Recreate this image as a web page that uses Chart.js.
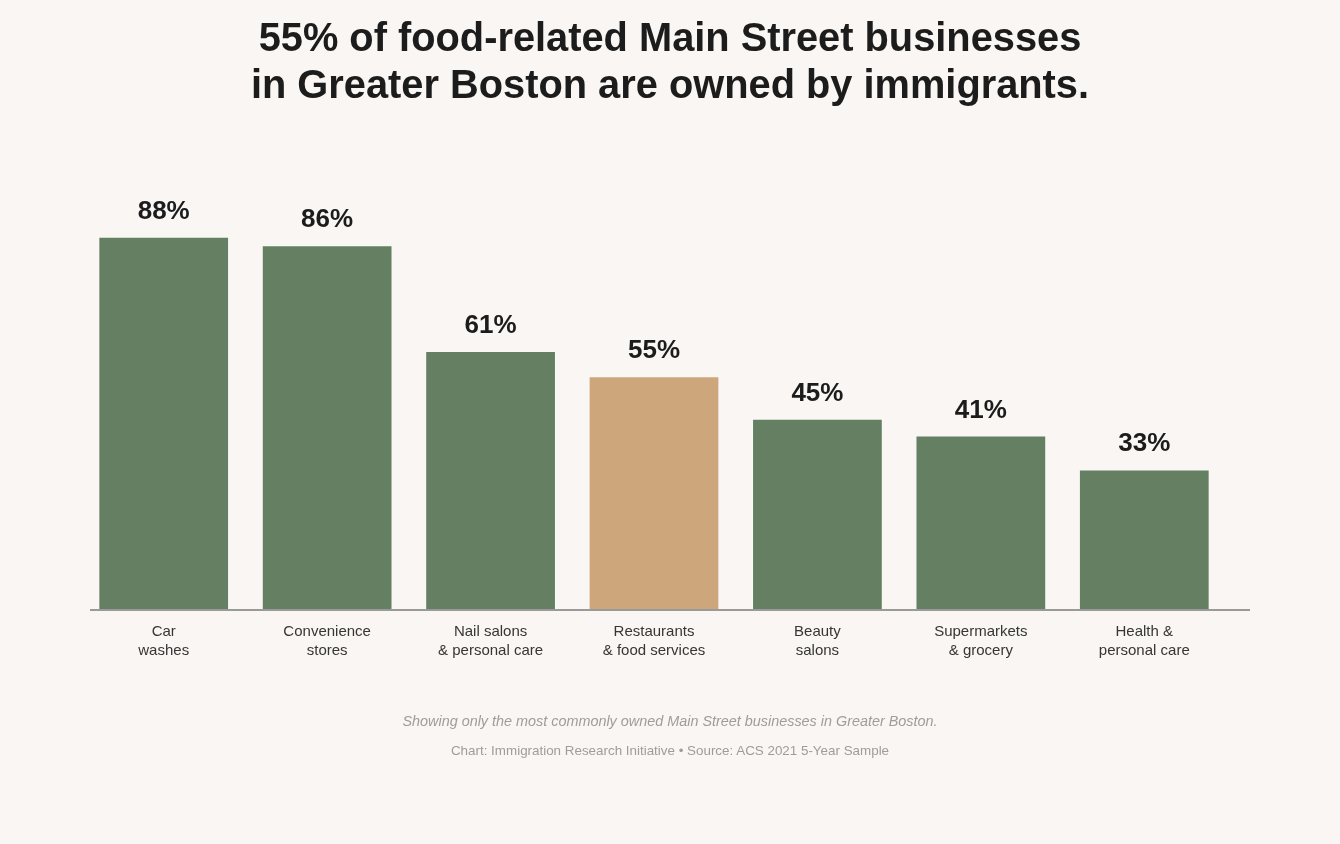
<!DOCTYPE html>
<html>
<head>
<meta charset="utf-8">
<script src="https://cdn.jsdelivr.net/npm/chart.js@4/dist/chart.umd.min.js"></script>
<style>
  html, body { margin: 0; padding: 0; background: #f9f6f3; }
  #wrap { position: relative; width: 1340px; height: 844px; overflow: hidden; font-family: "Liberation Sans", Arial, sans-serif; }
  #title { position: absolute; left: 0; top: 14px; width: 1340px; text-align: center; font-weight: bold; font-size: 39.8px; line-height: 47px; color: #1c1c1c; }
  #note { position: absolute; left: 0; top: 711px; width: 1340px; text-align: center; font-style: italic; font-size: 14.4px; line-height: 20px; color: #a09c99; }
  #source { position: absolute; left: 0; top: 741px; width: 1340px; text-align: center; font-size: 13.4px; line-height: 20px; color: #a09c99; }
  #chart { position: absolute; left: 0; top: 0; }
</style>
</head>
<body>
<div id="wrap">
  <canvas id="chart" width="1340" height="844"></canvas>
  <div id="title">55% of food-related Main Street businesses<br>in Greater Boston are owned by immigrants.</div>
  <div id="note">Showing only the most commonly owned Main Street businesses in Greater Boston.</div>
  <div id="source">Chart: Immigration Research Initiative • Source: ACS 2021 5-Year Sample</div>
</div>
<script>
'use strict';
// Data
var categories = [
  ['Car', 'washes'],
  ['Convenience', 'stores'],
  ['Nail salons', '& personal care'],
  ['Restaurants', '& food services'],
  ['Beauty', 'salons'],
  ['Supermarkets', '& grocery'],
  ['Health &', 'personal care']
];
var shareImmigrant = [88, 86, 61, 55, 45, 41, 33];
var highlightIndex = 3;

var greenColor = '#647f61';
var tanColor = '#cda67b';
var barColors = [];
for (var i = 0; i < shareImmigrant.length; i++) {
  barColors.push(i === highlightIndex ? tanColor : greenColor);
}

// value labels over bars + the baseline
var barExtras = {
  id: 'barExtras',
  afterDatasetsDraw: function (chart) {
    var ctx = chart.ctx;
    var area = chart.chartArea;
    ctx.save();
    ctx.strokeStyle = '#9a9a9a';
    ctx.lineWidth = 2;
    ctx.beginPath();
    ctx.moveTo(90, area.bottom + 1);
    ctx.lineTo(1250, area.bottom + 1);
    ctx.stroke();

    var meta = chart.getDatasetMeta(0);
    ctx.fillStyle = '#1c1c1c';
    ctx.font = 'bold 26px "Liberation Sans", Arial, sans-serif';
    ctx.textAlign = 'center';
    ctx.textBaseline = 'alphabetic';
    meta.data.forEach(function (bar, idx) {
      ctx.fillText(shareImmigrant[idx] + '%', bar.x, bar.y - 18);
    });
    ctx.restore();
  }
};

var ctx = document.getElementById('chart').getContext('2d');
var chart = new Chart(ctx, {
  type: 'bar',
  data: {
    labels: categories,
    datasets: [{
      data: shareImmigrant,
      backgroundColor: barColors,
      borderColor: 'rgba(255,255,255,0.25)',
      borderWidth: 1,
      barPercentage: 0.8,
      categoryPercentage: 1
    }]
  },
  options: {
    responsive: false,
    animation: false,
    layout: {
      padding: { left: 82, right: 114, top: 186, bottom: 175 }
    },
    plugins: {
      legend: { display: false },
      tooltip: { enabled: false },
      title: { display: false }
    },
    scales: {
      x: {
        grid: { display: false, drawTicks: false },
        border: { display: false },
        afterFit: function (s) { s.height = 60; },
        ticks: {
          padding: 13,
          color: '#363636',
          maxRotation: 0,
          autoSkip: false,
          font: { family: '"Liberation Sans", Arial, sans-serif', size: 15, lineHeight: 1.27 }
        }
      },
      y: {
        display: false,
        min: 0,
        max: 100
      }
    }
  },
  plugins: [barExtras]
});
</script>
</body>
</html>
